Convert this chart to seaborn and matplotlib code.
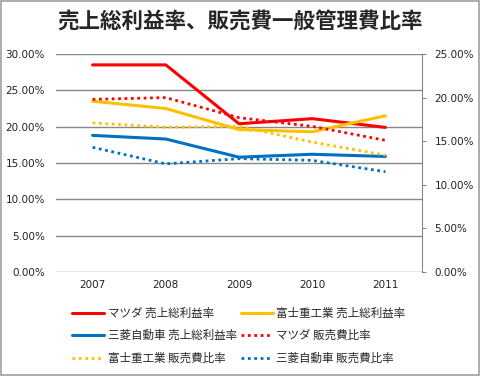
import matplotlib
matplotlib.use("Agg")
import matplotlib.pyplot as plt
import seaborn as sns
from matplotlib.ticker import PercentFormatter
from matplotlib.lines import Line2D
from matplotlib.patches import Rectangle

# data (percent)
years = [2007, 2008, 2009, 2010, 2011]
mazda_gross = [28.5, 28.5, 20.4, 21.1, 19.9]
fuji_gross = [23.5, 22.5, 19.6, 19.3, 21.5]
mitsu_gross = [18.8, 18.3, 15.8, 16.2, 15.9]
mazda_sga = [19.8, 20.0, 17.7, 16.7, 15.1]
fuji_sga = [17.1, 16.6, 16.7, 14.9, 13.4]
mitsu_sga = [14.3, 12.4, 13.0, 12.8, 11.5]

red = "#FF0000"
yellow = "#FFC000"
blue = "#0070C0"

sns.set_style("white")
plt.rcParams["font.family"] = ["DejaVu Sans", "Noto Sans CJK JP"]

fig = plt.figure(figsize=(4.8, 3.76), dpi=100)
ax1 = fig.add_axes([56 / 480, 1 - 272 / 376, 366 / 480, 218 / 376])
ax2 = ax1.twinx()

dot = (0, (1, 1.3))
lw = 2.2

# 左軸: 売上総利益率 (実線)
sns.lineplot(x=years, y=mazda_gross, ax=ax1, color=red, lw=lw)
sns.lineplot(x=years, y=fuji_gross, ax=ax1, color=yellow, lw=lw)
sns.lineplot(x=years, y=mitsu_gross, ax=ax1, color=blue, lw=lw)

# 右軸: 販売費比率 (点線)
for vals, c in [(mazda_sga, red), (fuji_sga, yellow), (mitsu_sga, blue)]:
    sns.lineplot(x=years, y=vals, ax=ax2, color=c, lw=2.0, linestyle=dot)

ax1.set_xlim(2006.5, 2011.5)
ax1.set_xticks(years)
ax1.set_xticklabels([str(y) for y in years])
ax1.set_ylim(0, 30)
ax1.set_yticks(range(0, 31, 5))
ax2.set_ylim(0, 25)
ax2.set_yticks(range(0, 26, 5))
ax1.yaxis.set_major_formatter(PercentFormatter(100, decimals=2))
ax2.yaxis.set_major_formatter(PercentFormatter(100, decimals=2))

ax1.grid(axis="y", color="#888888", lw=1)
ax1.set_axisbelow(True)
for s in ax1.spines.values():
    s.set_visible(False)
for k, s in ax2.spines.items():
    s.set_visible(k == "right")
ax2.spines["right"].set_color("#888888")
ax1.tick_params(axis="both", length=0, labelsize=7.5, colors="#222222")
ax1.tick_params(axis="y", pad=8)
ax1.tick_params(axis="x", pad=6)
ax2.tick_params(axis="y", length=3, color="#888888", labelsize=7.5, pad=6, labelcolor="#222222", direction="out")
ax1.set_xlabel("")
ax1.set_ylabel("")
ax2.set_ylabel("")

fig.text(0.5, 1 - 22 / 376, "売上総利益率、販売費一般管理費比率", ha="center", va="center",
         fontsize=15.5, fontweight="bold", family=["Noto Sans CJK JP"])

# 凡例 (行ごとの並び)
labels = ["マツダ 売上総利益率", "富士重工業 売上総利益率",
          "三菱自動車 売上総利益率", "マツダ 販売費比率",
          "富士重工業 販売費比率", "三菱自動車 販売費比率"]
styles = [(red, "-"), (yellow, "-"), (blue, "-"), (red, dot), (yellow, dot), (blue, dot)]
handles = [Line2D([], [], color=c, lw=lw if ls == "-" else 2.0, linestyle=ls) for c, ls in styles]
order = [0, 2, 4, 1, 3, 5]
fig.legend([handles[i] for i in order], [labels[i] for i in order], ncol=2,
           loc="upper left", bbox_to_anchor=(66 / 480, 1 - 301 / 376), frameon=False,
           prop={"family": ["Noto Sans CJK JP"], "size": 8.3}, handlelength=2.8,
           handletextpad=0.3, columnspacing=0.35, labelspacing=0.82, borderpad=0)

fig.patches.append(Rectangle((0.002, 0.003), 0.995, 0.994, transform=fig.transFigure,
                             fill=False, edgecolor="#A0A0A0", lw=1.2))

fig.savefig("out.png", dpi=100)
